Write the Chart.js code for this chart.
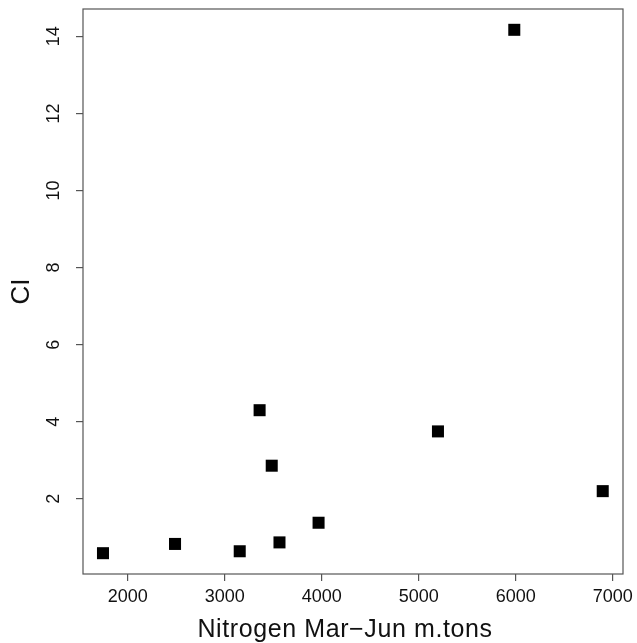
<!DOCTYPE html>
<html>
<head>
<meta charset="utf-8">
<script src="https://cdn.jsdelivr.net/npm/chart.js@4/dist/chart.umd.min.js"></script>
<style>
  html, body { margin: 0; padding: 0; background: #fff; }
</style>
</head>
<body>
<canvas id="c" width="637" height="643"></canvas>
<script>
const nitrogen = [1744, 2487, 3154, 3359, 3484, 3564, 3967, 5198, 5985, 6897];
const ci = [0.59, 0.83, 0.64, 4.30, 2.86, 0.87, 1.38, 3.75, 14.17, 2.20];
const xTicks = [2000, 3000, 4000, 5000, 6000, 7000];
const yTicks = [2, 4, 6, 8, 10, 12, 14];
const xTitle = "Nitrogen Mar\u2212Jun m.tons";
const yTitle = "CI";

const FONT = "'Liberation Sans', Arial, Helvetica, sans-serif";
const AXIS = "#555";

// box around plot, rotated y labels and both titles (R style)
const rDecor = {
    id: "rDecor",
    afterDraw(chart) {
        const ctx = chart.ctx;
        const a = chart.chartArea;
        const y = chart.scales.y;
        ctx.save();
        ctx.strokeStyle = AXIS;
        ctx.lineWidth = 1.2;
        ctx.strokeRect(a.left, a.top, a.right - a.left, a.bottom - a.top);

        ctx.fillStyle = "#111";
        ctx.textAlign = "center";
        ctx.textBaseline = "middle";
        ctx.font = "18px " + FONT;
        yTicks.forEach(v => {
            ctx.save();
            ctx.translate(54, y.getPixelForValue(v));
            ctx.rotate(-Math.PI / 2);
            ctx.fillText(String(v), 0, 0);
            ctx.restore();
        });

        ctx.save();
        ctx.font = "25px " + FONT;
        ctx.letterSpacing = "0.6px";
        ctx.textBaseline = "alphabetic";
        ctx.fillText(xTitle, 345, 637);
        ctx.restore();

        ctx.font = "26px " + FONT;
        ctx.save();
        ctx.translate(22, (a.top + a.bottom) / 2);
        ctx.rotate(-Math.PI / 2);
        ctx.fillText(yTitle, 0, 0);
        ctx.restore();
        ctx.restore();
    }
};

const tickGrid = {display: true, drawOnChartArea: false, drawTicks: true, tickLength: 7, color: AXIS, lineWidth: 1.2};

new Chart(document.getElementById("c"), {
    type: "scatter",
    data: {
        datasets: [{
            data: nitrogen.map((n, i) => ({x: n, y: ci[i]})),
            pointStyle: "rect",
            pointRadius: 8.5,
            pointHoverRadius: 8.5,
            backgroundColor: "#000",
            borderWidth: 0
        }]
    },
    options: {
        responsive: false,
        devicePixelRatio: 1,
        animation: false,
        layout: {autoPadding: false, padding: {top: 9, right: 14, left: 0, bottom: 0}},
        plugins: {legend: {display: false}, tooltip: {enabled: false}},
        scales: {
            x: {
                type: "linear",
                min: 1538,
                max: 7106,
                afterBuildTicks: s => { s.ticks = xTicks.map(v => ({value: v})); },
                afterFit: s => { s.height = 69; s.paddingLeft = 0; s.paddingRight = 0; },
                grid: tickGrid,
                border: {display: false},
                ticks: {
                    color: "#111", font: {size: 18, family: FONT}, padding: 5,
                    maxRotation: 0, autoSkip: false,
                    callback: v => String(v)
                }
            },
            y: {
                type: "linear",
                min: 0.05,
                max: 14.71,
                afterBuildTicks: s => { s.ticks = yTicks.map(v => ({value: v})); },
                afterFit: s => { s.width = 83; s.paddingTop = 0; s.paddingBottom = 0; },
                grid: tickGrid,
                border: {display: false},
                ticks: {display: false}
            }
        }
    },
    plugins: [rDecor]
});
</script>
</body>
</html>
